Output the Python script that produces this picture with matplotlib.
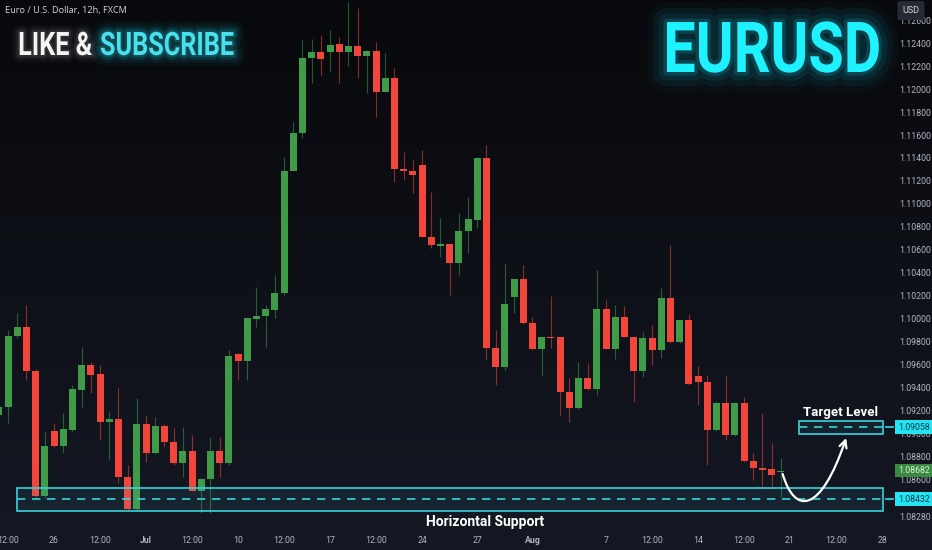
import matplotlib
matplotlib.use('Agg')
import matplotlib.pyplot as plt
import matplotlib.patheffects as pe
from matplotlib.patches import Rectangle, FancyArrowPatch
from matplotlib.path import Path
from matplotlib.transforms import Affine2D, blended_transform_factory
from matplotlib.colors import LinearSegmentedColormap
import numpy as np

# 12h candles, index 0 = Mon 26 Jun 00:00 (weekends skipped)
FIRST_INDEX = -6
opens = [1.09165, 1.09235, 1.09852, 1.09930, 1.09548, 1.08461, 1.09026, 1.08896, 1.09035, 1.09383,
         1.09600, 1.09522, 1.09104, 1.09130, 1.08626, 1.08348, 1.09087, 1.08835, 1.09070, 1.08930,
         1.08748, 1.08852, 1.08504, 1.08609, 1.08852, 1.08748, 1.09696, 1.09635, 1.10000, 1.10026,
         1.10078, 1.10226, 1.11287, 1.11617, 1.12270, 1.12322, 1.12322, 1.12391, 1.12322, 1.12374,
         1.12287, 1.12331, 1.11974, 1.12096, 1.11304, 1.11287, 1.11339, 1.10713, 1.10635, 1.10652,
         1.10487, 1.10765, 1.10861, 1.11400, 1.09748, 1.09583, 1.10191, 1.10348, 1.09965, 1.09739,
         1.09843, 1.09843, 1.09365, 1.09226, 1.09487, 1.09391, 1.10087, 1.09739, 1.10017, 1.09843,
         1.09548, 1.09835, 1.09730, 1.10183, 1.09800, 1.09991, 1.09504, 1.09452, 1.09035, 1.09270,
         1.08991, 1.09270, 1.08765, 1.08704, 1.08696, 1.08670]
highs = [1.09296, 1.09904, 1.10052, 1.10122, 1.09565, 1.09017, 1.09096, 1.09183, 1.09426, 1.09757,
         1.09626, 1.09600, 1.09191, 1.09400, 1.08730, 1.09313, 1.09165, 1.09148, 1.09087, 1.09052,
         1.09061, 1.08991, 1.08615, 1.08974, 1.08974, 1.09730, 1.09700, 1.10015, 1.10278, 1.10122,
         1.10383, 1.11409, 1.11713, 1.12426, 1.12435, 1.12470, 1.12513, 1.12452, 1.12757, 1.12704,
         1.12335, 1.12409, 1.12313, 1.12183, 1.11452, 1.11383, 1.11470, 1.11104, 1.10878, 1.10655,
         1.10922, 1.11061, 1.11405, 1.11513, 1.09904, 1.10487, 1.10350, 1.10470, 1.10017, 1.09845,
         1.10200, 1.09845, 1.09487, 1.09626, 1.09617, 1.10426, 1.10165, 1.10122, 1.10113, 1.09845,
         1.09887, 1.09948, 1.10270, 1.10644, 1.09995, 1.10043, 1.09591, 1.09513, 1.09275, 1.09513,
         1.09275, 1.09322, 1.08835, 1.09183, 1.08922, 1.08791]
lows = [1.09096, 1.09096, 1.09835, 1.09470, 1.08443, 1.08443, 1.08887, 1.08835, 1.09017, 1.09235,
        1.09357, 1.08948, 1.08774, 1.08574, 1.08322, 1.08322, 1.08756, 1.08830, 1.08887, 1.08730,
        1.08626, 1.08500, 1.08313, 1.08313, 1.08626, 1.08730, 1.09470, 1.09470, 1.09930, 1.09757,
        1.10009, 1.10209, 1.11574, 1.11574, 1.12052, 1.12122, 1.12148, 1.12052, 1.12200, 1.12096,
        1.11965, 1.11757, 1.11970, 1.11191, 1.11209, 1.11096, 1.10710, 1.10617, 1.10539, 1.10209,
        1.10383, 1.10574, 1.10791, 1.09643, 1.09426, 1.09557, 1.10052, 1.09960, 1.09735, 1.09513,
        1.09748, 1.09165, 1.09104, 1.09220, 1.09385, 1.09339, 1.09735, 1.09652, 1.09840, 1.09278,
        1.09496, 1.09600, 1.09661, 1.09795, 1.09795, 1.09430, 1.09252, 1.08730, 1.09030, 1.08948,
        1.08985, 1.08760, 1.08600, 1.08530, 1.08539, 1.08452]
closes = [1.09235, 1.09852, 1.09930, 1.09548, 1.08461, 1.08896, 1.08896, 1.09043, 1.09391, 1.09600,
          1.09513, 1.09104, 1.09130, 1.08626, 1.08348, 1.09087, 1.08835, 1.09070, 1.08930, 1.08748,
          1.08852, 1.08504, 1.08609, 1.08852, 1.08748, 1.09678, 1.09635, 1.10009, 1.10026, 1.10087,
          1.10226, 1.11287, 1.11617, 1.12270, 1.12322, 1.12261, 1.12383, 1.12322, 1.12374, 1.12287,
          1.12331, 1.11974, 1.12096, 1.11304, 1.11287, 1.11252, 1.10713, 1.10644, 1.10652, 1.10487,
          1.10765, 1.10870, 1.11400, 1.09748, 1.09583, 1.10130, 1.10348, 1.09965, 1.09739, 1.09843,
          1.09835, 1.09365, 1.09226, 1.09487, 1.09391, 1.10087, 1.09739, 1.10017, 1.09843, 1.09548,
          1.09835, 1.09730, 1.10183, 1.09800, 1.09991, 1.09435, 1.09452, 1.09035, 1.09270, 1.08991,
          1.09270, 1.08765, 1.08704, 1.08687, 1.08643, 1.08682]

x_tick_pos = [-5, 0, 5, 10, 15, 20, 25, 30, 35, 40, 46, 52, 60, 65, 70, 75, 80, 85, 90]
x_tick_labels = ['12:00', '26', '12:00', 'Jul', '12:00', '10', '12:00', '17', '12:00', '24',
                 '27', 'Aug', '7', '12:00', '14', '12:00', '21', '12:00', '28']
y_ticks = [1.0828] + [round(1.086 + 0.002 * k, 3) for k in range(21)]

SUPPORT_LEVEL = 1.08432
TARGET_LEVEL = 1.09058
LAST_PRICE = 1.08682

GREEN = '#3f9b47'
RED = '#f2463a'
CYAN = '#36d3dd'
BG_TOP = '#08090c'
BG_BOTTOM = '#141823'


class Squeeze(pe.AbstractPathEffect):
    """Draw text narrower (condensed look) with an optional glow."""

    def __init__(self, sx, glow=None, anchor='left'):
        super().__init__()
        self.sx = sx
        self.glow = glow
        self.anchor = anchor

    def draw_path(self, renderer, gc, tpath, affine, rgbFace=None):
        ext = tpath.get_extents()
        x0 = {'left': 0.0, 'right': ext.x1, 'center': (ext.x0 + ext.x1) / 2}[self.anchor]
        aff = Affine2D().translate(-x0, 0).scale(self.sx, 1.0).translate(x0, 0) + affine
        if self.glow:
            color, layers = self.glow
            for lw, a in layers:
                gc0 = renderer.new_gc()
                gc0.copy_properties(gc)
                gc0.set_foreground(color)
                gc0.set_linewidth(lw)
                gc0.set_alpha(a)
                gc0.set_joinstyle('round')
                renderer.draw_path(gc0, tpath, aff, None)
                gc0.restore()
        renderer.draw_path(gc, tpath, aff, rgbFace)


def fx(px):
    return px / 932


def fy(py):
    return 1 - py / 550


fig = plt.figure(figsize=(9.32, 5.5), dpi=100)

# background gradient
bg = fig.add_axes([0, 0, 1, 1], zorder=-10)
cmap = LinearSegmentedColormap.from_list('bg', [BG_BOTTOM, BG_TOP])
bg.imshow(np.linspace(0, 1, 256).reshape(-1, 1), aspect='auto', cmap=cmap,
          extent=[0, 1, 0, 1], origin='lower')
bg.axis('off')

ax = fig.add_axes([0, 20 / 550, 888 / 932, 530 / 550])
ax.set_facecolor('none')
for s in ax.spines.values():
    s.set_visible(False)

x = np.arange(FIRST_INDEX, FIRST_INDEX + len(opens))
o = np.array(opens)
h = np.array(highs)
l = np.array(lows)
c = np.array(closes)
up = c >= o
colors = np.where(up, GREEN, RED)
body_bottom = np.minimum(o, c)
body_height = np.maximum(np.abs(c - o), 0.00004)

ax.vlines(x, l, h, colors=colors, linewidth=0.8, alpha=0.55, zorder=2)
ax.bar(x, body_height, bottom=body_bottom, width=0.76, color=colors, linewidth=0, zorder=3)

# support / target zones
ax.add_patch(Rectangle((-4.0, SUPPORT_LEVEL - 0.00104), 94.1, 0.00204, facecolor=(0.25, 0.8, 0.9, 0.08),
                       edgecolor=CYAN, linewidth=1.2, zorder=4))
ax.hlines(SUPPORT_LEVEL, -4.0, 90.1, colors=CYAN, linestyles=(0, (5, 4)), linewidth=1.2, zorder=4)
ax.add_patch(Rectangle((81.0, TARGET_LEVEL - 0.00058), 9.1, 0.00114, facecolor=(0.25, 0.8, 0.9, 0.08),
                       edgecolor=CYAN, linewidth=1.2, zorder=4))
ax.hlines(TARGET_LEVEL, 81.0, 90.1, colors=CYAN, linestyles=(0, (5, 4)), linewidth=1.2, zorder=4)

ax.text(46.85, 1.08232, 'Horizontal Support', color='white', fontsize=10, fontweight='bold',
        family='Roboto', ha='center', va='center', zorder=6)
ax.text(85.5, 1.09183, 'Target Level', color='white', fontsize=9.5, fontweight='bold',
        family='Roboto', ha='center', va='center', zorder=6)

# projected path
verts = [(79.2, 1.08652), (80.5, 1.0830), (83.3, 1.0830), (86.1, 1.08965)]
path = Path(verts, [Path.MOVETO, Path.CURVE4, Path.CURVE4, Path.CURVE4])
ax.add_patch(FancyArrowPatch(path=path, arrowstyle='->', mutation_scale=13, color='white',
                             linewidth=1.6, zorder=7))

ax.set_xlim(-5.87, 90.65)
ax.set_ylim(1.08165, 1.12774)

ax.set_xticks(x_tick_pos)
ax.set_xticklabels(x_tick_labels)
ax.tick_params(axis='x', length=0, pad=4, labelsize=6.3, labelcolor='#b2b5be')
for lab in ax.get_xticklabels():
    lab.set_family('Roboto')
    if lab.get_text() in ('Jul', 'Aug'):
        lab.set_fontweight('bold')

ax.yaxis.tick_right()
ax.set_yticks(y_ticks)
ax.set_yticklabels([f'{v:.5f}' for v in y_ticks])
ax.tick_params(axis='y', length=0, pad=8, labelsize=6.3, labelcolor='#b2b5be')
for lab in ax.get_yticklabels():
    lab.set_family('Roboto')

# price tags on the right axis
tag_tf = blended_transform_factory(ax.transAxes, ax.transData)


def price_tag(level, fc, tc, line=True):
    if line:
        ax.plot([0.998, 1.006], [level, level], color=fc, linewidth=1.2, transform=tag_tf, clip_on=False,
                zorder=8)
    ax.text(1.011, level, f'{level:.5f}', transform=tag_tf, color=tc, fontsize=6.3, family='Roboto',
            ha='left', va='center', clip_on=False, zorder=9,
            bbox=dict(boxstyle='square,pad=0.28', facecolor=fc, edgecolor='none'))


price_tag(TARGET_LEVEL, '#22e4f2', '#0d3b4a')
price_tag(SUPPORT_LEVEL, '#22e4f2', '#0d3b4a')
price_tag(LAST_PRICE, '#3a8a40', '#d8f0d8', line=False)

fig.text(fx(911), fy(10.5), 'USD', color='#d1d4dc', fontsize=6.5, family='Roboto', ha='center', va='center',
         bbox=dict(boxstyle='round,pad=0.55,rounding_size=0.25', facecolor='#262a35', edgecolor='none'))

fig.text(fx(5), fy(10), 'Euro / U.S. Dollar, 12h, FXCM', color='#d1d4dc', fontsize=6.6,
         family='Open Sans', ha='left', va='center')

# headline texts
white_glow = ('white', [(10, 0.03), (6, 0.05), (3, 0.08)])
cyan_glow = ('#20e8ff', [(16, 0.04), (11, 0.06), (7, 0.09), (3.5, 0.15)])
fig.text(fx(55), fy(55), 'LIKE &', color='#f4f4f4', fontsize=23.3, fontweight='bold', family='Roboto',
         ha='center', va='baseline', path_effects=[Squeeze(0.78, white_glow, anchor='center')])
fig.text(fx(100), fy(55), 'SUBSCRIBE', color='#48e0ec', fontsize=23.3, fontweight='bold', family='Roboto',
         ha='left', va='baseline', path_effects=[Squeeze(0.78, cyan_glow)])
fig.text(fx(882), fy(72), 'EURUSD', color='#1ff2ff', fontsize=50.6, fontweight='bold', family='Roboto',
         ha='right', va='baseline',
         path_effects=[Squeeze(0.82, ('#14e4ff', [(28, 0.03), (20, 0.05), (12, 0.08), (5, 0.15)]), anchor='right')])

fig.savefig('out.png', dpi=100)
